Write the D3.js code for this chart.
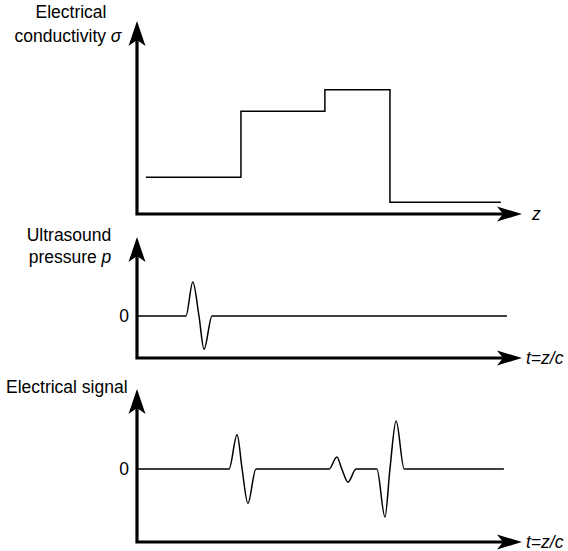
<!DOCTYPE html>
<html>
<head>
<meta charset="utf-8">
<script src="https://cdn.jsdelivr.net/npm/d3@7"></script>
<style>
  html, body { margin: 0; padding: 0; background: #fff; }
  svg text { font-family: "Liberation Sans", Arial, sans-serif; font-size: 17.5px; fill: #000; }
</style>
</head>
<body>
<div id="chart"></div>
<script>
// depth / time positions share one horizontal scale (0..100)
const stepEdges = [2.3, 27, 48.8, 65.7, 94.5];
const sigmaLevels = [1.9, 5.3, 6.4, 0.6];

const pressureT = [0, 12.7, 14.5, 16.1, 17.4, 19.5, 96.1];
const pressureP = [0, 0, 0.85, 0, -0.83, 0, 0];

const signalT = [0, 23.9, 26, 27.3, 28.8, 30.9, 49.9, 51.9, 53.2, 54.8, 56.9, 62.3, 64.4, 65.7, 67.3, 69.4, 95.3];
const signalV = [0, 0, 0.57, 0, -0.57, 0, 0, 0.2, 0, -0.22, 0, 0, -0.8, 0, 0.8, 0, 0];

const zeroTicks = [0];

const width = 568, height = 551;

const svg = d3.select('#chart')
  .append('svg')
  .attr('width', width)
  .attr('height', height);

const x = d3.scaleLinear().domain([0, 100]).range([137, 522]);

// panel layouts: axis bottom, arrow tip
const panels = [
  { bottom: 214, top: 21 },
  { bottom: 358, top: 237 },
  { bottom: 542, top: 389 }
];

const ySigma = d3.scaleLinear().domain([0, 10]).range([214, 20]);
const yP = d3.scaleLinear().domain([-1, 1]).range([356, 276]);
const yS = d3.scaleLinear().domain([-1, 1]).range([529, 409]);

function arrowUp(g, cx, cy) {
  g.append('path')
    .attr('d', `M${cx},${cy} L${cx + 8.5},${cy + 25} L${cx},${cy + 19} L${cx - 8.5},${cy + 25} Z`)
    .attr('fill', '#000');
}
function arrowRight(g, cx, cy) {
  g.append('path')
    .attr('d', `M${cx},${cy} L${cx - 25},${cy - 7.5} L${cx - 19},${cy} L${cx - 25},${cy + 7.5} Z`)
    .attr('fill', '#000');
}

// axes with arrows
panels.forEach(p => {
  const g = svg.append('g');
  g.append('path')
    .attr('d', `M${x(0)},${p.top + 10} L${x(0)},${p.bottom} L${x(100) - 10},${p.bottom}`)
    .attr('fill', 'none')
    .attr('stroke', '#000')
    .attr('stroke-width', 3.2)
    .attr('stroke-linejoin', 'miter');
  arrowUp(g, x(0), p.top);
  arrowRight(g, x(100), p.bottom);
});

// zero ticks on panels 2 and 3
[yP, yS].forEach(y => {
  svg.append('g')
    .attr('transform', `translate(${x(0) - 1}, 0)`)
    .call(d3.axisLeft(y).tickValues(zeroTicks).tickSize(0).tickPadding(7).tickFormat(d3.format('d')))
    .call(g => g.select('.domain').remove())
    .call(g => g.selectAll('text')
      .style('font-family', '"Liberation Sans", Arial, sans-serif')
      .style('font-size', '17.5px'));
});

const lineStyle = sel => sel
  .attr('fill', 'none')
  .attr('stroke', '#000')
  .attr('stroke-width', 1.5);

// conductivity step profile
const stepPts = stepEdges.map((z, i) => [z, sigmaLevels[Math.min(i, sigmaLevels.length - 1)]]);
svg.append('path')
  .datum(stepPts)
  .attr('d', d3.line().x(d => x(d[0])).y(d => ySigma(d[1])).curve(d3.curveStepAfter))
  .call(lineStyle);

// ultrasound pulse
svg.append('path')
  .datum(pressureT.map((t, i) => [t, pressureP[i]]))
  .attr('d', d3.line().x(d => x(d[0])).y(d => yP(d[1])).curve(d3.curveMonotoneX))
  .call(lineStyle);

// electrical signal
svg.append('path')
  .datum(signalT.map((t, i) => [t, signalV[i]]))
  .attr('d', d3.line().x(d => x(d[0])).y(d => yS(d[1])).curve(d3.curveMonotoneX))
  .call(lineStyle);

// labels
const lab = svg.append('g');
lab.append('text').attr('x', 71).attr('y', 18).attr('text-anchor', 'middle').text('Electrical');
const cond = lab.append('text').attr('x', 68).attr('y', 42).attr('text-anchor', 'middle');
cond.append('tspan').text('conductivity ');
cond.append('tspan').style('font-style', 'italic').text('σ');

lab.append('text').attr('x', 69).attr('y', 241).attr('text-anchor', 'middle').text('Ultrasound');
const pres = lab.append('text').attr('x', 70).attr('y', 263).attr('text-anchor', 'middle');
pres.append('tspan').text('pressure ');
pres.append('tspan').style('font-style', 'italic').text('p');

lab.append('text').attr('x', 6).attr('y', 393).text('Electrical signal');

lab.append('text').attr('x', 532).attr('y', panels[0].bottom).attr('dy', '0.35em')
  .style('font-style', 'italic').text('z');
lab.append('text').attr('x', 526).attr('y', panels[1].bottom).attr('dy', '0.35em')
  .style('font-style', 'italic').text('t=z/c');
lab.append('text').attr('x', 526).attr('y', panels[2].bottom).attr('dy', '0.35em')
  .style('font-style', 'italic').text('t=z/c');
</script>
</body>
</html>
